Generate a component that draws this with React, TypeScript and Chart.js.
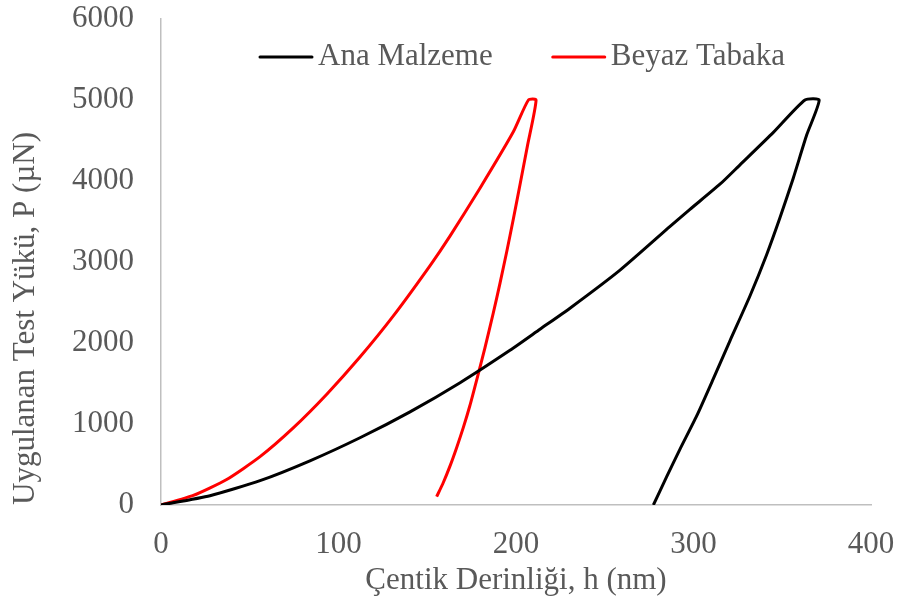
import { useEffect, useRef } from "react";
import { Chart, registerables } from "chart.js";

Chart.register(...registerables);

// Indentation depth h (nm) and applied load P (µN): loading, hold, unloading
const anaDepth = [0, 27.6, 55.8, 83.9, 112.1, 140.3, 168.5, 196.6, 213.5, 230.4, 258.6, 286.8, 298, 314.9, 326.2, 345, 362.8, 370.8, 363.8, 356.2, 348.7, 341.2, 331.8, 320.6, 311.2, 301.8, 292.4, 284.9, 277.4];
const anaLoad = [0, 115, 300, 545, 830, 1150, 1510, 1910, 2170, 2430, 2900, 3440, 3650, 3960, 4200, 4600, 5000, 5000, 4570, 4035, 3545, 3090, 2580, 2030, 1560, 1100, 690, 350, 0];

const beyazDepth = [0, 18.2, 37, 55.8, 74.5, 93.4, 112.1, 130.9, 151.5, 162.8, 179.7, 198.5, 207, 211.3, 206.5, 202.3, 198.5, 194.8, 191, 187.2, 182.5, 177.8, 174, 170.3, 166.5, 162.8, 159, 155.3];
const beyazLoad = [0, 118, 315, 597, 952, 1368, 1826, 2334, 2952, 3319, 3911, 4607, 5000, 5000, 4440, 3960, 3530, 3130, 2740, 2370, 1940, 1540, 1225, 955, 705, 480, 275, 103];

const seriesNames = ["Ana Malzeme", "Beyaz Tabaka"];
const seriesColors = ["#000000", "#ff0000"];

const xMin = 0;
const xMax = 400;
const xStep = 100;
const yMin = 0;
const yMax = 6000;
const yStep = 1000;

const xTitle = "Çentik Derinliği, h (nm)";
const yTitle = "Uygulanan Test Yükü, P (µN)";

const FONT_FAMILY = '"Liberation Serif", "Times New Roman", serif';
const TEXT_COLOR = "#595959";
const AXIS_COLOR = "#bfbfbf";

const toPoints = (xs: number[], ys: number[]) => xs.map((x, i) => ({ x, y: ys[i] }));

// Legend drawn inside the plot area, as a line sample followed by the label
const insideLegend = {
  id: "insideLegend",
  afterDatasetsDraw(chart: any) {
    const { ctx, chartArea } = chart;
    const lineLen = 52;
    const gap = 6;
    const between = 60;
    const y = chartArea.top + 38;
    let x = chartArea.left + 99;
    ctx.save();
    ctx.font = `31px ${FONT_FAMILY}`;
    ctx.textBaseline = "middle";
    ctx.textAlign = "left";
    chart.data.datasets.forEach((ds: any) => {
      ctx.strokeStyle = ds.borderColor;
      ctx.lineWidth = 3;
      ctx.lineCap = "round";
      ctx.beginPath();
      ctx.moveTo(x, y);
      ctx.lineTo(x + lineLen, y);
      ctx.stroke();
      x += lineLen + gap;
      ctx.fillStyle = TEXT_COLOR;
      ctx.fillText(ds.label, x, y);
      x += ctx.measureText(ds.label).width + between;
    });
    ctx.restore();
  },
};

export default function App() {
  const canvasRef = useRef<HTMLCanvasElement | null>(null);

  useEffect(() => {
    if (!canvasRef.current) return;
    const font = { family: FONT_FAMILY, size: 31 };
    const plain = (v: any) => String(v);
    const chart = new Chart(canvasRef.current, {
      type: "scatter",
      data: {
        datasets: [
          {
            label: seriesNames[0],
            data: toPoints(anaDepth, anaLoad),
            borderColor: seriesColors[0],
            backgroundColor: seriesColors[0],
            borderWidth: 3,
            showLine: true,
            pointRadius: 0,
            tension: 0.2,
          },
          {
            label: seriesNames[1],
            data: toPoints(beyazDepth, beyazLoad),
            borderColor: seriesColors[1],
            backgroundColor: seriesColors[1],
            borderWidth: 3,
            showLine: true,
            pointRadius: 0,
            tension: 0.2,
          },
        ],
      },
      options: {
        animation: false,
        responsive: true,
        maintainAspectRatio: false,
        layout: { padding: { top: 19, right: 26, left: 0, bottom: 0 } },
        plugins: {
          legend: { display: false },
          tooltip: { enabled: false },
        },
        scales: {
          x: {
            type: "linear",
            min: xMin,
            max: xMax,
            grid: { display: false, drawTicks: false },
            border: { display: true, color: AXIS_COLOR, width: 1.5 },
            ticks: { stepSize: xStep, color: TEXT_COLOR, font, padding: 21, maxRotation: 0, callback: plain },
            title: { display: true, text: xTitle, color: TEXT_COLOR, font, padding: { top: 0, bottom: 13 } },
            afterFit: (scale: any) => {
              scale.height = 107;
              scale.paddingLeft = 0;
              scale.paddingRight = 0;
            },
          },
          y: {
            type: "linear",
            min: yMin,
            max: yMax,
            grid: { display: false, drawTicks: false },
            border: { display: true, color: AXIS_COLOR, width: 1.5 },
            ticks: { stepSize: yStep, color: TEXT_COLOR, font, padding: 27, callback: plain },
            title: { display: true, text: yTitle, color: TEXT_COLOR, font, align: "start", padding: { top: 7, bottom: 0 } },
            afterFit: (scale: any) => {
              scale.width = 161;
              scale.paddingTop = 0;
              scale.paddingBottom = 0;
            },
          },
        },
      },
      plugins: [insideLegend],
    });
    return () => chart.destroy();
  }, []);

  return (
    <div style={{ position: "fixed", left: 0, top: 0, width: 897, height: 612, background: "#ffffff" }}>
      <canvas ref={canvasRef} />
    </div>
  );
}
